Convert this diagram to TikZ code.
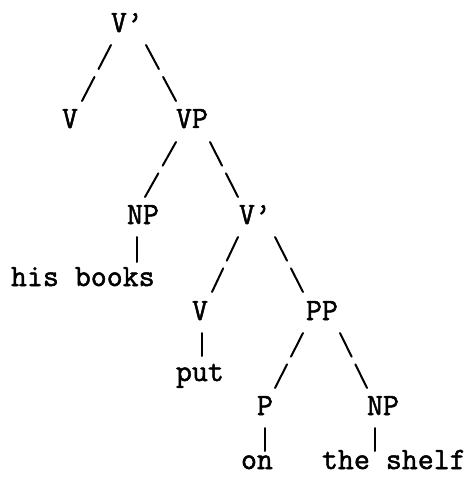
\documentclass[tikz,border=0pt]{standalone}
\usepackage{fontspec}
\newfontfamily\typewr{Latin Modern Mono}[AutoFakeBold=1.6]
\usetikzlibrary{calc}
\tikzset{
  lab/.style={inner sep=0pt, outer sep=0pt, anchor=base west, font=\typewr\bfseries\fontsize{31}{36}\selectfont},
  stroke/.style={line width=2pt, line cap=round},
}
% a typed branch: two strokes with a gap in the middle
\newcommand{\branch}[2]{%
  \draw[stroke] #1 -- ($#1!0.43!#2$);
  \draw[stroke] ($#1!0.57!#2$) -- #2;
}
\begin{document}
\begin{tikzpicture}[x=1pt, y=-1pt]
\useasboundingbox (0,0) rectangle (469,484);
\node[lab] (t)   at (111,32)  {V’};
\node[lab] (v1)  at (62,128)  {V};
\node[lab] (vp1) at (176,128) {VP};
\node[lab] (np1) at (127,224) {NP};
\node[lab] (vb2) at (239,224) {V’};
\node[lab] (hb)  at (11,286)  {his books};
\node[lab] (v3)  at (192,320) {V};
\node[lab] (pp)  at (306,320) {PP};
\node[lab] (put) at (176,381) {put};
\node[lab] (p)   at (257,415) {P};
\node[lab] (np2) at (367,415) {NP};
\node[lab] (on)  at (241,469) {on};
\node[lab] (sh)  at (322,469) {the shelf};

\branch{($(t.base west)+(0,13)$)}{($(v1.base west)+(20,-27)$)}
\branch{($(t.base west)+(35,13)$)}{($(vp1.base west)+(0,-27)$)}
\branch{($(vp1.base west)+(0,14)$)}{($(np1.base west)+(18,-27)$)}
\branch{($(vp1.base west)+(34,14)$)}{($(vb2.base west)+(-1,-27)$)}
\branch{($(vb2.base west)+(-1,13)$)}{($(v3.base west)+(20,-28)$)}
\branch{($(vb2.base west)+(36,13)$)}{($(pp.base west)+(-3,-28)$)}
\branch{($(pp.base west)+(-3,13)$)}{($(p.base west)+(18,-27)$)}
\branch{($(pp.base west)+(34,13)$)}{($(np2.base west)+(0,-27)$)}

\draw[stroke] ($(np1.base west)+(10,13)$) -- ($(hb.base west)+(126,-24)$);
\draw[stroke] ($(v3.base west)+(10,13)$) -- ($(put.base west)+(26,-25)$);
\draw[stroke] ($(p.base west)+(8,13)$) -- ($(on.base west)+(24,-18)$);
\draw[stroke] ($(np2.base west)+(8,13)$) -- ($(sh.base west)+(53,-18)$);
\end{tikzpicture}
\end{document}
